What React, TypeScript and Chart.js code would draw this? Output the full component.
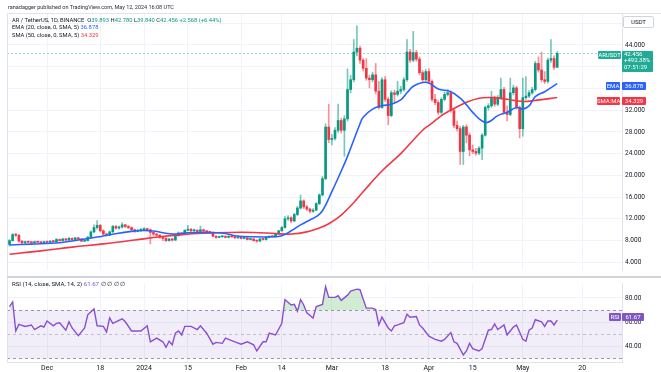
import React, { useEffect, useRef } from "react";
import { Chart, registerables } from "chart.js";

Chart.register(...registerables);

const FONT = "Roboto, 'Noto Sans', sans-serif";
const TEXT = "#131722";
const UP = "#089981";
const DOWN = "#f23645";
const UP_WICK = "rgba(8,153,129,0.55)";
const DOWN_WICK = "rgba(242,54,69,0.55)";
const EMA_COLOR = "#2962ff";
const SMA_COLOR = "#f23645";
const RSI_COLOR = "#7e57c2";
const GRID = "#f0f3fa";
const LAST_LINE = "#9ad9d0";

// day index 0 = 2023-11-19 (daily candles, AR/USDT)
const tickDays = [12, 29, 43, 57, 74, 87, 103, 120, 134, 148, 164, 183];
const tickLabels = ["Dec", "18", "2024", "15", "Feb", "14", "Mar", "18", "Apr", "15", "May", "20"];
const priceTicks = [4, 8, 12, 16, 20, 24, 28, 32, 36, 40, 44, 48];
const rsiTicks = [40, 60, 80];
const RSI_UPPER = 70;
const RSI_MID = 50;
const RSI_LOWER = 30;

const opens = [
  7.3, 8.0, 9.1, 9.0, 7.9, 7.6, 7.8, 7.7, 7.6, 7.8,
  7.7, 7.6, 7.8, 7.7, 7.9, 7.8, 8.2, 8.0, 8.3, 8.1,
  8.4, 8.2, 8.5, 8.3, 7.9, 8.0, 8.6, 9.6, 10.4, 10.8,
  9.8, 9.2, 9.0, 9.6, 10.6, 10.3, 10.5, 10.9, 10.6, 10.4,
  10.0, 9.7, 9.9, 10.0, 10.2, 10.0, 9.5, 9.2, 9.0, 8.6,
  8.4, 8.0, 8.3, 8.1, 8.9, 9.4, 9.2, 9.9, 10.1, 9.8,
  9.9, 9.7, 10.0, 9.8, 9.6, 9.5, 8.8, 8.6, 8.7, 8.8,
  8.6, 8.8, 8.7, 8.5, 8.6, 8.4, 8.5, 8.2, 8.3, 8.0,
  7.9, 8.3, 8.2, 8.6, 8.8, 8.7, 9.2, 9.8, 10.4, 12.0,
  12.2, 11.6, 12.8, 14.0, 15.3, 14.2, 13.8, 13.4, 13.6, 14.8,
  16.4, 19.4, 28.9, 26.6, 26.8, 28.3, 30.1, 28.3, 30.4, 35.8,
  37.6, 42.7, 43.4, 41.2, 39.7, 37.9, 37.6, 38.5, 35.5, 32.5,
  37.6, 34.0, 31.0, 35.2, 34.9, 35.5, 35.8, 37.6, 42.7, 41.2,
  42.6, 41.4, 38.9, 37.6, 39.1, 37.3, 34.0, 33.4, 31.6, 34.0,
  34.9, 35.2, 31.9, 29.2, 28.6, 24.4, 28.9, 27.4, 24.7, 24.4,
  24.1, 25.0, 27.4, 32.5, 32.8, 34.3, 33.1, 34.3, 35.8, 31.6,
  31.2, 35.2, 36.1, 32.5, 28.6, 34.3, 34.6, 35.2, 35.8, 40.6,
  39.4, 37.6, 37.3, 41.2, 41.5, 39.893,
];
const closes = [
  8.0, 9.1, 9.0, 7.9, 7.6, 7.8, 7.7, 7.6, 7.8, 7.7,
  7.6, 7.8, 7.7, 7.9, 7.8, 8.2, 8.0, 8.3, 8.1, 8.4,
  8.2, 8.5, 8.3, 7.9, 8.0, 8.6, 9.6, 10.4, 10.8, 9.8,
  9.2, 9.0, 9.6, 10.6, 10.3, 10.5, 10.9, 10.6, 10.4, 10.0,
  9.7, 9.9, 10.0, 10.2, 10.0, 9.5, 9.2, 9.0, 8.6, 8.4,
  8.0, 8.3, 8.1, 8.9, 9.4, 9.2, 9.9, 10.1, 9.8, 9.9,
  9.7, 10.0, 9.8, 9.6, 9.5, 8.8, 8.6, 8.7, 8.8, 8.6,
  8.8, 8.7, 8.5, 8.6, 8.4, 8.5, 8.2, 8.3, 8.0, 7.9,
  8.3, 8.2, 8.6, 8.8, 8.7, 9.2, 9.8, 10.4, 12.0, 12.2,
  11.6, 12.8, 14.0, 15.3, 14.2, 13.8, 13.4, 13.6, 14.8, 16.4,
  19.4, 28.9, 26.6, 26.8, 28.3, 30.1, 28.3, 30.4, 35.8, 37.6,
  42.7, 43.4, 41.2, 39.7, 37.9, 37.6, 38.5, 35.5, 32.5, 37.6,
  34.0, 31.0, 35.2, 34.9, 35.5, 35.8, 37.6, 42.7, 41.2, 42.6,
  41.4, 38.9, 37.6, 39.1, 37.3, 34.0, 33.4, 31.6, 34.0, 34.9,
  35.2, 31.9, 29.2, 28.6, 24.4, 28.9, 27.4, 24.7, 24.4, 24.1,
  25.0, 27.4, 32.5, 32.8, 34.3, 33.1, 34.3, 35.8, 31.6, 31.2,
  35.2, 36.1, 32.5, 28.6, 34.3, 34.6, 35.2, 35.8, 40.6, 39.4,
  37.6, 37.3, 41.2, 41.5, 39.893, 42.456,
];
const highs = [
  8.2, 9.3, 9.3, 9.1, 8.0, 7.9, 7.9, 7.8, 7.9, 7.9,
  7.8, 7.9, 7.9, 8.0, 8.0, 8.4, 8.3, 8.4, 8.4, 8.6,
  8.5, 8.6, 8.6, 8.4, 8.2, 8.8, 9.8, 10.9, 11.7, 11.0,
  10.0, 9.4, 9.8, 10.8, 10.8, 10.7, 11.3, 11.0, 10.8, 10.5,
  10.1, 10.1, 10.2, 10.4, 10.3, 10.1, 9.6, 9.3, 9.1, 8.7,
  8.5, 8.4, 8.4, 9.0, 9.6, 9.5, 10.0, 10.8, 10.2, 10.1,
  10.0, 10.7, 10.1, 9.9, 9.7, 9.6, 8.9, 8.8, 8.9, 8.9,
  8.9, 8.9, 8.8, 8.7, 8.7, 8.6, 8.6, 8.4, 8.4, 8.1,
  8.4, 8.4, 8.7, 8.9, 8.9, 9.3, 9.9, 10.6, 12.4, 12.6,
  12.4, 13.0, 14.3, 16.4, 15.5, 14.5, 14.0, 13.9, 15.0, 16.6,
  19.8, 29.5, 33.1, 27.5, 28.8, 33.1, 30.5, 31.0, 39.6, 38.4,
  45.0, 47.5, 43.8, 41.5, 41.5, 38.4, 39.0, 40.6, 37.3, 38.0,
  38.2, 34.4, 35.6, 35.7, 37.3, 36.4, 38.0, 45.0, 43.2, 46.5,
  43.0, 41.8, 39.3, 39.5, 39.6, 37.6, 34.9, 33.8, 34.3, 35.3,
  35.8, 35.5, 32.2, 30.0, 29.0, 29.2, 29.3, 27.8, 25.6, 25.0,
  25.3, 27.7, 32.8, 33.2, 35.5, 34.6, 34.7, 37.9, 36.2, 32.8,
  37.9, 36.6, 36.4, 32.8, 37.9, 38.2, 35.6, 36.2, 41.0, 41.8,
  42.7, 39.1, 41.6, 45.0, 42.0, 42.78,
];
const lows = [
  7.0, 7.9, 8.7, 7.7, 7.4, 7.5, 7.6, 7.5, 7.5, 7.6,
  7.5, 7.5, 7.6, 7.6, 7.7, 7.7, 7.9, 7.9, 8.0, 8.0,
  8.1, 8.1, 8.2, 7.8, 7.8, 7.9, 8.5, 9.4, 10.1, 9.6,
  9.0, 8.8, 8.9, 9.5, 10.1, 10.1, 10.3, 10.4, 10.2, 9.8,
  9.5, 9.6, 9.7, 9.9, 9.8, 7.4, 8.9, 8.8, 8.4, 8.0,
  7.8, 7.9, 7.9, 8.0, 8.8, 9.0, 9.1, 9.8, 9.6, 9.7,
  9.5, 9.6, 9.6, 9.4, 9.3, 8.7, 8.4, 8.5, 8.6, 8.5,
  8.5, 8.6, 8.4, 8.4, 8.3, 8.3, 8.1, 8.1, 7.9, 7.7,
  7.8, 8.1, 8.1, 8.5, 8.6, 8.6, 9.1, 9.7, 10.3, 11.7,
  11.3, 11.5, 12.6, 13.8, 13.9, 13.5, 13.1, 13.2, 13.5, 14.6,
  16.2, 19.2, 26.0, 25.6, 26.5, 27.9, 27.8, 23.5, 30.0, 35.2,
  37.2, 42.0, 40.6, 39.2, 37.5, 36.1, 37.2, 35.0, 32.2, 32.3,
  33.6, 29.3, 30.8, 33.5, 34.6, 35.0, 35.5, 37.3, 40.8, 40.9,
  41.0, 38.5, 37.2, 37.3, 36.9, 33.6, 33.0, 31.2, 31.3, 33.7,
  34.6, 31.6, 28.8, 28.2, 22.0, 22.0, 26.0, 23.6, 24.0, 23.7,
  23.8, 22.9, 27.2, 32.0, 32.5, 32.7, 32.8, 34.0, 31.3, 30.0,
  31.0, 34.8, 32.2, 26.9, 27.2, 34.0, 34.3, 34.9, 35.5, 39.0,
  37.2, 36.9, 37.0, 40.8, 39.5, 39.84,
];

// EMA (20, close, 0, SMA, 5)
const emaDays = [0, 7, 16, 22, 28, 32, 39, 43, 46, 52, 57, 64, 69, 72, 78, 84, 87, 90, 93, 96, 98, 100, 103, 106, 108, 110, 112, 113, 116, 119, 122, 125, 127, 129, 132, 134, 137, 141, 144, 146, 148, 151, 153, 156, 159, 162, 164, 166, 168, 171, 175];
const emaValues = [7.2, 7.35, 7.6, 8.1, 8.65, 9.07, 9.7, 9.86, 9.75, 9.2, 9.45, 9.5, 9.3, 8.9, 8.7, 8.7, 8.9, 9.8, 10.9, 11.8, 12.4, 13.5, 17.0, 20.8, 23.5, 26.5, 29.5, 30.7, 32.2, 32.8, 33.1, 33.9, 35.2, 36.4, 37.1, 37.0, 35.9, 35.4, 34.2, 33.0, 31.6, 30.0, 29.8, 31.0, 31.6, 32.5, 32.2, 32.8, 34.5, 35.4, 36.878];

// SMA (50, close, 0, SMA, 5)
const smaDays = [0, 10, 20, 30, 40, 48, 55, 62, 70, 78, 85, 90, 95, 99, 102, 106, 110, 113, 119, 125, 132, 135, 138, 141, 145, 150, 155, 159, 164, 168, 175];
const smaValues = [5.5, 6.1, 6.8, 7.4, 8.1, 8.7, 9.1, 9.35, 9.5, 9.5, 9.3, 9.2, 9.6, 10.3, 11.1, 12.7, 15.0, 17.0, 20.8, 24.0, 28.3, 29.6, 31.0, 32.0, 33.2, 34.2, 34.3, 34.0, 33.6, 33.8, 34.329];

// RSI (14)
const rsiDays = [0, 1, 2, 3, 5, 7, 8, 10, 11, 12, 14, 15, 16, 18, 19, 20, 22, 24, 25, 27, 28, 30, 31, 32, 33, 36, 37, 39, 42, 44, 45, 47, 49, 50, 51, 52, 53, 54, 55, 56, 58, 60, 61, 63, 65, 66, 68, 69, 70, 72, 74, 76, 78, 79, 81, 82, 83, 85, 87, 88, 90, 91, 92, 93, 94, 95, 97, 98, 100, 101, 102, 104, 105, 106, 108, 109, 111, 112, 113, 114, 116, 117, 118, 119, 121, 122, 123, 124, 126, 127, 128, 130, 131, 132, 134, 136, 138, 139, 141, 142, 143, 145, 146, 147, 148, 150, 151, 153, 154, 155, 156, 158, 159, 161, 162, 164, 165, 166, 167, 168, 170, 171, 172, 173, 174, 175];
const rsiValues = [72.9, 76.7, 52.7, 58.2, 56.5, 57.7, 53.9, 57.0, 56.0, 61.0, 57.0, 59.0, 59.5, 53.4, 60.3, 55.2, 48.9, 55.2, 66.1, 70.9, 57.0, 56.5, 51.9, 63.5, 59.0, 62.8, 60.3, 52.7, 52.7, 57.0, 43.8, 46.8, 43.8, 39.2, 44.3, 41.3, 50.9, 52.7, 49.4, 56.5, 56.5, 53.9, 57.0, 50.9, 41.8, 43.3, 42.5, 46.8, 45.8, 43.8, 41.8, 43.8, 41.3, 36.2, 43.8, 43.8, 50.9, 49.4, 59.0, 78.7, 74.2, 74.7, 69.1, 78.7, 74.2, 67.8, 63.5, 72.9, 74.7, 89.4, 80.5, 80.5, 81.8, 78.0, 82.3, 85.6, 87.3, 86.8, 79.2, 71.6, 71.6, 70.4, 57.7, 64.1, 55.2, 52.7, 57.0, 57.7, 59.5, 66.6, 64.1, 64.6, 57.7, 55.2, 48.4, 45.8, 44.3, 45.8, 51.4, 43.8, 42.5, 32.9, 36.2, 42.5, 38.2, 36.2, 38.2, 53.4, 53.9, 58.5, 53.9, 57.7, 49.4, 55.9, 57.7, 45.8, 44.3, 53.4, 55.2, 62.0, 60.3, 56.5, 61.0, 61.0, 57.7, 61.67];

const X_MIN = -0.8;
const X_MAX = 195.7;
const PRICE_MIN = 2.57;
const PRICE_MAX = 49.88;
const RSI_MIN = 27.1;
const RSI_MAX = 91.6;

const lastPriceLine = {
  id: "lastPriceLine",
  beforeDatasetsDraw(chart: any) {
    const { ctx, chartArea: a, scales } = chart;
    const y = Math.round(scales.y.getPixelForValue(closes[closes.length - 1])) + 0.5;
    ctx.save();
    ctx.strokeStyle = LAST_LINE;
    ctx.lineWidth = 1;
    ctx.setLineDash([2, 2]);
    ctx.beginPath();
    ctx.moveTo(a.left, y);
    ctx.lineTo(a.right, y);
    ctx.stroke();
    ctx.restore();
  },
};

const rsiBands = {
  id: "rsiBands",
  beforeDatasetsDraw(chart: any) {
    const { ctx, chartArea: a, scales } = chart;
    const y70 = scales.y.getPixelForValue(RSI_UPPER);
    const y30 = scales.y.getPixelForValue(RSI_LOWER);
    const y50 = scales.y.getPixelForValue(RSI_MID);
    ctx.save();
    ctx.fillStyle = "rgba(126,87,194,0.1)";
    ctx.fillRect(a.left, y70, a.right - a.left, y30 - y70);
    ctx.lineWidth = 1;
    ctx.setLineDash([3, 3]);
    const line = (yy: number, color: string) => {
      const p = Math.round(yy) + 0.5;
      ctx.strokeStyle = color;
      ctx.beginPath();
      ctx.moveTo(a.left, p);
      ctx.lineTo(a.right, p);
      ctx.stroke();
    };
    line(y70, "#9598a1");
    line(y30, "#9598a1");
    line(y50, "rgba(149,152,161,0.55)");
    ctx.restore();
  },
};

export default function App() {
  const mainRef = useRef<HTMLCanvasElement>(null);
  const rsiRef = useRef<HTMLCanvasElement>(null);

  useEffect(() => {
    const days = closes.map((_, i) => i);
    const isUp = days.map((i) => closes[i] >= opens[i]);

    const xCommon = {
      type: "linear" as const,
      min: X_MIN,
      max: X_MAX,
      offset: false,
      afterBuildTicks: (s: any) => {
        s.ticks = tickDays.map((v) => ({ value: v }));
      },
    };

    const main = new Chart(mainRef.current!, {
      type: "bar",
      data: {
        datasets: [
          {
            type: "line",
            label: "EMA",
            data: emaDays.map((d, i) => ({ x: d, y: emaValues[i] })),
            borderColor: EMA_COLOR,
            borderWidth: 1.6,
            pointRadius: 0,
            tension: 0.4,
            order: 0,
          } as any,
          {
            type: "line",
            label: "SMA",
            data: smaDays.map((d, i) => ({ x: d, y: smaValues[i] })),
            borderColor: SMA_COLOR,
            borderWidth: 1.6,
            pointRadius: 0,
            tension: 0.4,
            order: 1,
          } as any,
          {
            label: "body",
            data: days.map((d) => ({ x: d, y: [opens[d], closes[d]] })),
            backgroundColor: isUp.map((u) => (u ? UP : DOWN)),
            barThickness: 2,
            minBarLength: 1,
            grouped: false,
            order: 2,
          } as any,
          {
            label: "wick",
            data: days.map((d) => ({ x: d, y: [lows[d], highs[d]] })),
            backgroundColor: isUp.map((u) => (u ? UP_WICK : DOWN_WICK)),
            barThickness: 1,
            grouped: false,
            order: 3,
          } as any,
        ],
      },
      options: {
        responsive: false,
        animation: false,
        events: [],
        layout: { padding: { left: 7, top: 13, right: 0, bottom: 0 } },
        plugins: { legend: { display: false }, tooltip: { enabled: false } },
        scales: {
          x: {
            ...xCommon,
            ticks: { display: false },
            grid: { color: GRID, drawTicks: false, offset: false },
            border: { display: false },
            afterFit: (s: any) => {
              s.height = 0;
            },
          } as any,
          y: {
            type: "linear",
            position: "right",
            min: PRICE_MIN,
            max: PRICE_MAX,
            afterBuildTicks: (s: any) => {
              s.ticks = priceTicks.map((v) => ({ value: v }));
            },
            ticks: {
              autoSkip: false,
              padding: 3,
              color: TEXT,
              font: { family: FONT, size: 6.5 },
              callback: (v: any) => Number(v).toFixed(3),
            },
            grid: { color: GRID, drawTicks: false },
            border: { display: true, color: "#e0e3eb" },
            afterFit: (s: any) => {
              s.width = 39;
            },
          } as any,
        },
      },
      plugins: [lastPriceLine],
    });

    const rsi = new Chart(rsiRef.current!, {
      type: "line",
      data: {
        datasets: [
          {
            label: "RSI",
            data: rsiDays.map((d, i) => ({ x: d, y: rsiValues[i] })),
            borderColor: "#8a4fd0",
            borderWidth: 1.4,
            pointRadius: 0,
            tension: 0,
            fill: {
              target: { value: RSI_UPPER },
              above: "rgba(76,175,80,0.25)",
              below: "rgba(0,0,0,0)",
            },
          } as any,
        ],
      },
      options: {
        responsive: false,
        animation: false,
        events: [],
        layout: { padding: { left: 7, top: 0, right: 0, bottom: 0 } },
        plugins: { legend: { display: false }, tooltip: { enabled: false } },
        scales: {
          x: {
            ...xCommon,
            ticks: {
              autoSkip: false,
              maxRotation: 0,
              padding: 2,
              color: TEXT,
              font: { family: FONT, size: 7 },
              callback: (_v: any, i: number) => tickLabels[i],
            },
            grid: { color: GRID, drawTicks: false, offset: false },
            border: { display: true, color: "#e0e3eb" },
            afterFit: (s: any) => {
              s.height = 10;
            },
          } as any,
          y: {
            type: "linear",
            position: "right",
            min: RSI_MIN,
            max: RSI_MAX,
            afterBuildTicks: (s: any) => {
              s.ticks = rsiTicks.map((v) => ({ value: v }));
            },
            ticks: {
              autoSkip: false,
              padding: 3,
              color: TEXT,
              font: { family: FONT, size: 6.5 },
              callback: (v: any) => Number(v).toFixed(2),
            },
            grid: { color: GRID, drawTicks: false },
            border: { display: true, color: "#e0e3eb" },
            afterFit: (s: any) => {
              s.width = 39;
            },
          } as any,
        },
      },
      plugins: [rsiBands],
    });

    return () => {
      main.destroy();
      rsi.destroy();
    };
  }, []);

  const abs = (l: number, t: number, extra: React.CSSProperties = {}): React.CSSProperties => ({
    position: "absolute",
    left: l,
    top: t,
    whiteSpace: "nowrap",
    ...extra,
  });
  const tag = (l: number, t: number, w: number, bg: string, text: string) => (
    <div
      style={abs(l, t, {
        width: w,
        height: 8,
        lineHeight: "8px",
        background: bg,
        color: "#fff",
        fontSize: 6,
        textAlign: "center",
        borderRadius: 1,
      })}
    >
      {text}
    </div>
  );

  return (
    <div
      style={{
        position: "absolute",
        left: 0,
        top: 0,
        width: 661,
        height: 372,
        background: "#fff",
        overflow: "hidden",
        fontFamily: FONT,
        color: TEXT,
      }}
    >
      <canvas ref={mainRef} width={661} height={277} style={{ position: "absolute", left: 0, top: 0 }} />
      <canvas ref={rsiRef} width={661} height={95} style={{ position: "absolute", left: 0, top: 277 }} />

      {/* frame lines */}
      <div style={abs(7, 13, { width: 654, height: 1, background: "#e0e3eb" })} />
      <div style={abs(7, 13, { width: 1, height: 349, background: "#e0e3eb" })} />
      <div style={abs(7, 276, { width: 654, height: 2, background: "#d1d4dc" })} />

      {/* header */}
      <div style={abs(8, 2.5, { fontSize: 5.5, lineHeight: "8px", color: "#2a2e39" })}>
        ranadagger published on TradingView.com, May 12, 2024 16:08 UTC
      </div>

      {/* legend */}
      <div style={abs(12, 16.5, { fontSize: 5.8, lineHeight: "7.6px" })}>
        <div>
          AR / TetherUS, 1D, BINANCE&nbsp; O<span style={{ color: UP }}>39.893</span> H
          <span style={{ color: UP }}>42.780</span> L<span style={{ color: UP }}>39.840</span> C
          <span style={{ color: UP }}>42.456</span> <span style={{ color: UP }}>+2.568 (+6.44%)</span>
        </div>
        <div>
          EMA (20, close, 0, SMA, 5) <span style={{ color: EMA_COLOR }}>36.878</span>
        </div>
        <div>
          SMA (50, close, 0, SMA, 5) <span style={{ color: SMA_COLOR }}>34.329</span>
        </div>
      </div>

      <div style={abs(12, 279.5, { fontSize: 6.1, lineHeight: "8px" })}>
        RSI (14, close, SMA, 14, 2) <span style={{ color: RSI_COLOR }}>61.67</span> ∅ ∅ ∅ ∅
      </div>

      {/* USDT box */}
      <div
        style={abs(623, 16, {
          width: 29,
          height: 10,
          lineHeight: "10px",
          border: "1px solid #d1d4dc",
          borderRadius: 2,
          background: "#fff",
          fontSize: 6,
          textAlign: "center",
        })}
      >
        USDT
      </div>

      {/* price tags */}
      {tag(598, 51, 23, "#22ab94", "ARUSDT")}
      <div
        style={abs(622, 50.5, {
          width: 31,
          height: 21,
          background: "#22ab94",
          color: "#fff",
          fontSize: 6,
          lineHeight: "6.8px",
          paddingLeft: 2,
          boxSizing: "border-box",
          borderRadius: 1,
        })}
      >
        <div>42.456</div>
        <div>+492.38%</div>
        <div>07:51:29</div>
      </div>
      {tag(606, 81.5, 14, EMA_COLOR, "EMA")}
      {tag(622, 81.5, 24, EMA_COLOR, "36.878")}
      {tag(597, 96.5, 23, SMA_COLOR, "SMA:MA")}
      {tag(622, 96.5, 24, SMA_COLOR, "34.329")}
      {tag(609, 313, 12, RSI_COLOR, "RSI")}
      {tag(622, 313, 22, RSI_COLOR, "61.67")}
    </div>
  );
}
